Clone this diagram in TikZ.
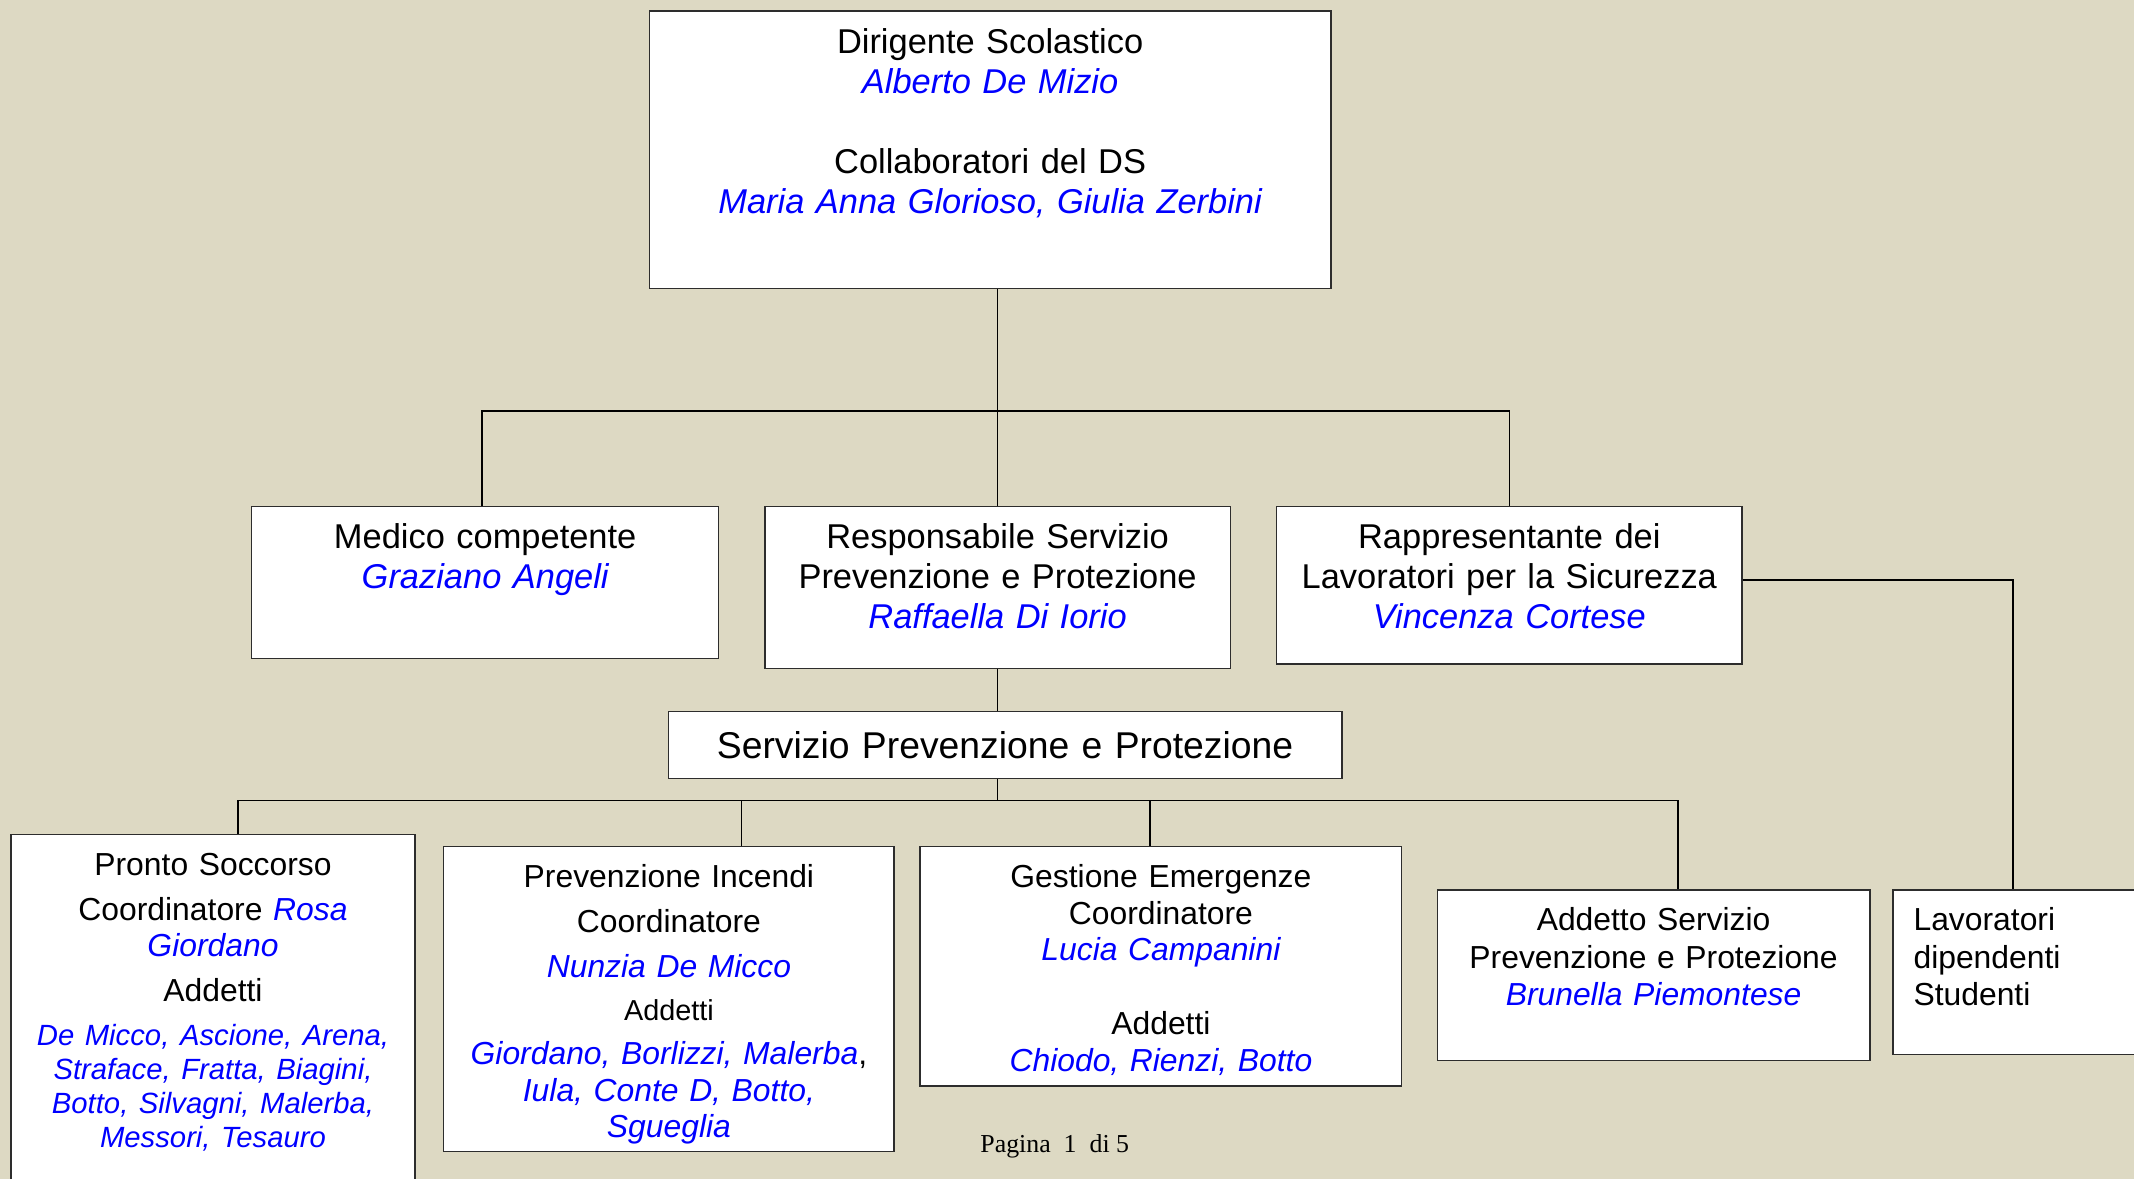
\documentclass[tikz,border=0pt]{standalone}
\usepackage{fontspec}
\setmainfont{Liberation Sans}
\newfontfamily\footfont{Liberation Serif}
\definecolor{pagetan}{RGB}{221,217,195}
\definecolor{nameblue}{RGB}{0,0,255}
\definecolor{boxline}{RGB}{45,45,45}

\newcommand{\who}[1]{\textcolor{nameblue}{\itshape #1}}
\newcommand{\whosmall}[1]{{\fontsize{21.5}{25}\selectfont\who{#1}}}

\begin{document}
\begin{tikzpicture}[x=1pt, y=-1pt,
    box/.style={draw=boxline, fill=white, line width=1pt, inner sep=0pt, align=center, anchor=base},
    upper/.style={font=\fontsize{25.3}{29.5}\selectfont},
    lower/.style={font=\fontsize{23.4}{27}\selectfont},
    link/.style={line width=1.1pt}]

    % Page
    \useasboundingbox (0,0) rectangle (1568,866);
    \clip (0,0) rectangle (1568,866);
    \fill[pagetan] (0,0) rectangle (1568,866);

    % Head
    \node[box, upper, text width=501pt, text height=31pt, text depth=173pt] (ds) at (727.5,39)
        {Dirigente Scolastico\\ \who{Alberto De Mizio}\\[29.5pt] Collaboratori del DS\\ \who{Maria Anna Glorioso, Giulia Zerbini}};

    % Second row
    \node[box, upper, text width=343pt, text height=31pt, text depth=81pt] (medico) at (356.5,403)
        {Medico competente\\ \who{Graziano Angeli}};
    \node[box, upper, text width=342pt, text height=31pt, text depth=88pt] (rspp) at (733,403)
        {Responsabile Servizio\\ Prevenzione e Protezione\\ \who{Raffaella Di Iorio}};
    \node[box, upper, text width=342pt, text height=31pt, text depth=85pt] (rls) at (1109,403)
        {Rappresentante dei\\ Lavoratori per la Sicurezza\\ \who{Vincenza Cortese}};

    % Service
    \node[box, font=\fontsize{27.4}{31}\selectfont, text width=495pt, text height=34pt, text depth=15pt] (spp) at (738.5,557)
        {Servizio Prevenzione e Protezione};

    % Bottom row
    \node[box, lower, text width=297pt, text height=30pt, text depth=240pt] (ps) at (156.5,643)
        {Pronto Soccorso\\[6pt] Coordinatore \who{Rosa}\\ \who{Giordano}\\[6pt] Addetti\\[5pt]
         \whosmall{De Micco, Ascione, Arena,}\\[-2pt] \whosmall{Straface, Fratta, Biagini,}\\[-2pt]
         \whosmall{Botto, Silvagni, Malerba,}\\[-2pt] \whosmall{Messori, Tesauro}};
    \node[box, lower, text width=331pt, text height=30pt, text depth=194pt] (pi) at (491.5,652)
        {Prevenzione Incendi\\[6pt] Coordinatore\\[6pt] \who{Nunzia De Micco}\\[5pt]
         {\fontsize{21.2}{27}\selectfont Addetti}\\[5pt] \who{Giordano, Borlizzi, Malerba},\\
         \who{Iula, Conte D, Botto,}\\ \who{Sgueglia}};
    \node[box, lower, text width=354pt, text height=30pt, text depth=146pt] (ge) at (853,652)
        {Gestione Emergenze\\ Coordinatore\\ \who{Lucia Campanini}\\[27pt] Addetti\\ \who{Chiodo, Rienzi, Botto}};
    \node[box, lower, font=\fontsize{23.4}{27.5}\selectfont, text width=318pt, text height=30pt, text depth=95pt] (aspp) at (1215,684)
        {Addetto Servizio\\ Prevenzione e Protezione\\ \who{Brunella Piemontese}};
    \node[box, lower, font=\fontsize{23.4}{27.5}\selectfont, align=left, text width=184pt, text height=30pt, text depth=91pt] (lav) at (1483,684)
        {\hspace*{15pt}Lavoratori\\ \hspace*{15pt}dipendenti\\ \hspace*{15pt}Studenti};

    % Footer
    \node[font=\footfont\fontsize{19}{22}\selectfont] (pagina) at (775,842) {Pagina\ \ 1\ \ di 5};

    % Upper links
    \coordinate (topbus) at (733,302);
    \draw[link] (rspp.north) -- (rspp.north |- ds.south);
    \draw[link] ([xshift=-2.5pt]medico.north) -- ([xshift=-2.5pt]medico.north |- topbus)
        -- (rls.north |- topbus) -- (rls.north);
    \draw[link] ([yshift=4pt]rls.east) -| ([xshift=-4pt]lav.north);
    \draw[link] (rspp.south) -- (rspp.south |- spp.north);

    % Lower links
    \coordinate (lowbus) at (733,588);
    \draw[link] (spp.south -| rspp.south) -- (lowbus);
    \draw[link] ([xshift=18.5pt]ps.north) -- ([xshift=18.5pt]ps.north |- lowbus)
        -- ([xshift=18pt]aspp.north |- lowbus) -- ([xshift=18pt]aspp.north);
    \draw[link] ([xshift=53.5pt]pi.north) -- ([xshift=53.5pt]pi.north |- lowbus);
    \draw[link] ([xshift=-8pt]ge.north) -- ([xshift=-8pt]ge.north |- lowbus);
\end{tikzpicture}
\end{document}
